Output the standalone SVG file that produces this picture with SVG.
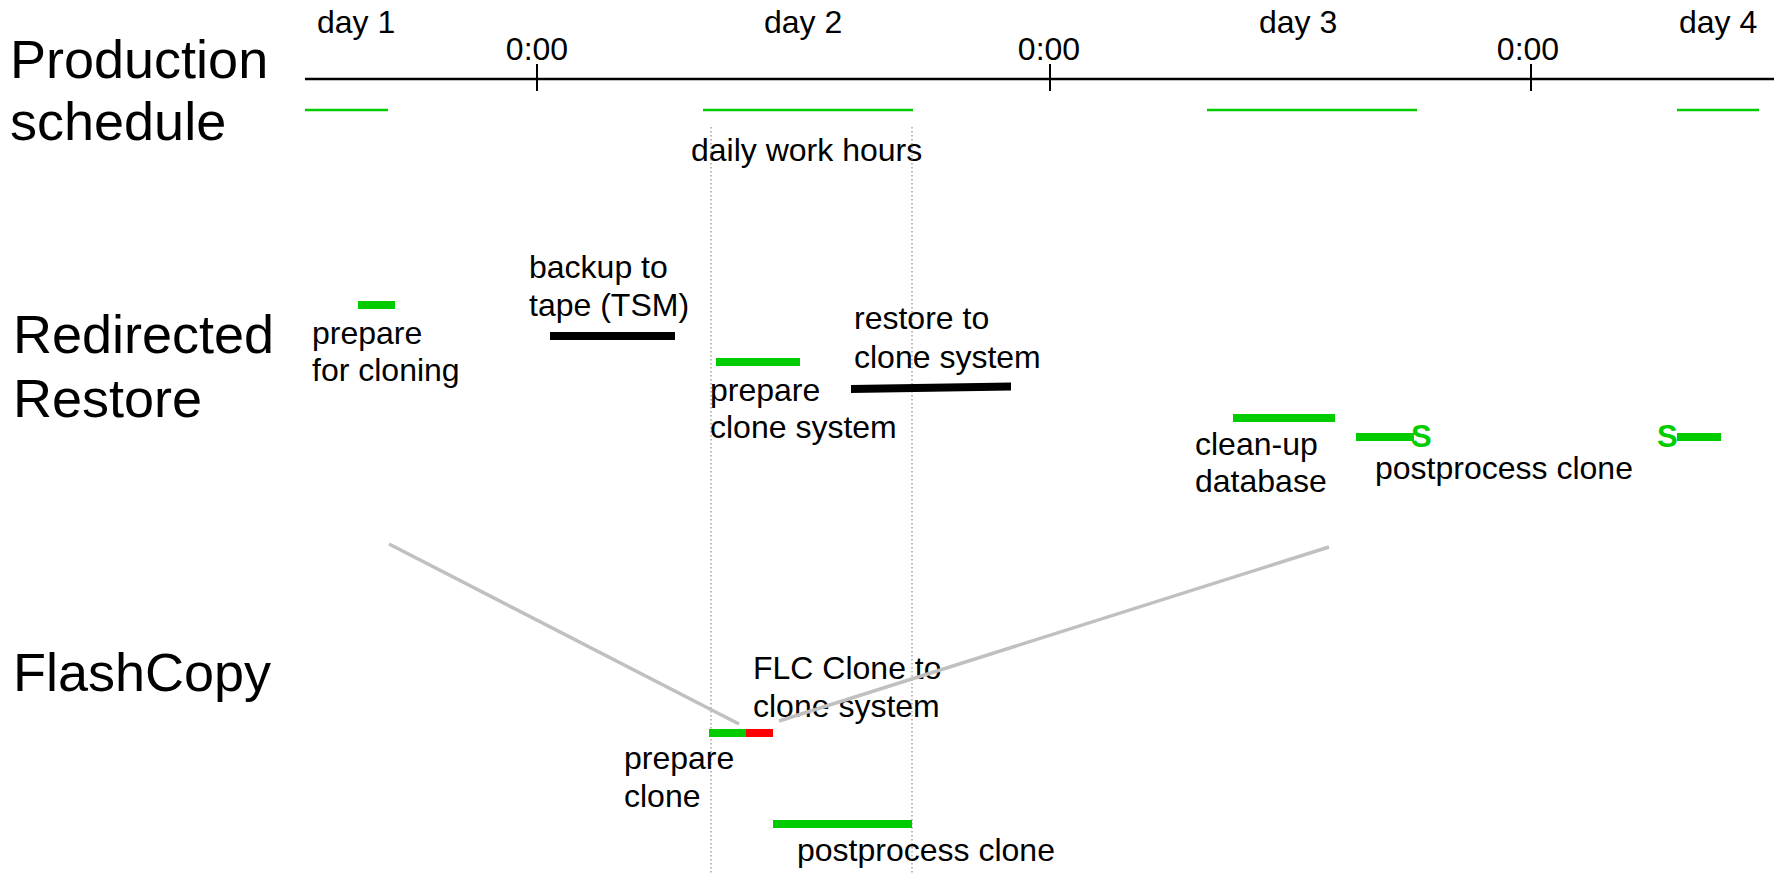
<svg xmlns="http://www.w3.org/2000/svg" width="1774" height="874" viewBox="0 0 1774 874">
  <style>
    text { font-family: "Liberation Sans", Arial, sans-serif; fill: #000; }
    .title { font-size: 54px; }
    .lbl { font-size: 32px; }
    .brk { font-size: 31px; font-weight: bold; fill: #00cc00; }
    .axis { stroke: #000; stroke-width: 2.5; fill: none; }
    .tick { stroke: #000; stroke-width: 2; }
    .hours { stroke: #00cc00; stroke-width: 2.5; }
    .guide { stroke: #777; stroke-width: 1; stroke-dasharray: 1.5 2.5; fill: none; }
    .green { fill: #00cc00; }
    .black { fill: #000; }
    .red { fill: #ff0000; }
    .link { stroke: #c0c0c0; stroke-width: 3.5; fill: none; }
  </style>
  <rect width="1774" height="874" fill="#fff"/>

  <!-- row headings -->
  <g id="heading-production">
    <text class="title" x="10" y="78">Production</text>
    <text class="title" x="10" y="140">schedule</text>
  </g>
  <g id="heading-redirected">
    <text class="title" x="13" y="353">Redirected</text>
    <text class="title" x="13" y="417">Restore</text>
  </g>
  <g id="heading-flashcopy">
    <text class="title" x="13" y="691">FlashCopy</text>
  </g>

  <!-- time axis -->
  <g id="axis">
    <line class="axis" x1="305" y1="79" x2="1774" y2="79"/>
    <line class="tick" x1="537" y1="64" x2="537" y2="91"/>
    <line class="tick" x1="1050" y1="64" x2="1050" y2="91"/>
    <line class="tick" x1="1531" y1="64" x2="1531" y2="91"/>
    <text class="lbl" x="537" y="60" text-anchor="middle">0:00</text>
    <text class="lbl" x="1049" y="60" text-anchor="middle">0:00</text>
    <text class="lbl" x="1528" y="60" text-anchor="middle">0:00</text>
    <text class="lbl" x="317" y="33">day 1</text>
    <text class="lbl" x="764" y="33">day 2</text>
    <text class="lbl" x="1259" y="33">day 3</text>
    <text class="lbl" x="1679" y="33">day 4</text>
  </g>

  <!-- daily work hours -->
  <g id="work-hours">
    <line class="hours" x1="305" y1="110" x2="388" y2="110"/>
    <line class="hours" x1="703" y1="110" x2="913" y2="110"/>
    <line class="hours" x1="1207" y1="110" x2="1417" y2="110"/>
    <line class="hours" x1="1677" y1="110" x2="1759" y2="110"/>
    <text class="lbl" x="691" y="161">daily work hours</text>
  </g>

  <!-- work-hour guides -->
  <g id="guides">
    <line class="guide" x1="711" y1="127" x2="711" y2="874"/>
    <line class="guide" x1="912" y1="127" x2="912" y2="874"/>
  </g>

  <!-- Redirected Restore tasks -->
  <g id="rr-prepare-cloning">
    <rect class="green" x="358" y="301" width="37" height="8"/>
    <text class="lbl" x="312" y="344">prepare</text>
    <text class="lbl" x="312" y="381">for cloning</text>
  </g>
  <g id="rr-backup">
    <rect class="black" x="550" y="332" width="125" height="8"/>
    <text class="lbl" x="529" y="278">backup to</text>
    <text class="lbl" x="529" y="316">tape (TSM)</text>
  </g>
  <g id="rr-prepare-clone-system">
    <rect class="green" x="716" y="358" width="84" height="8"/>
    <text class="lbl" x="710" y="401">prepare</text>
    <text class="lbl" x="710" y="438">clone system</text>
  </g>
  <g id="rr-restore">
    <path class="black" d="M851 385 L1011 382.5 L1011 390.5 L851 393 Z"/>
    <text class="lbl" x="854" y="329">restore to</text>
    <text class="lbl" x="854" y="368">clone system</text>
  </g>
  <g id="rr-cleanup">
    <rect class="green" x="1233" y="414" width="102" height="8"/>
    <text class="lbl" x="1195" y="455">clean-up</text>
    <text class="lbl" x="1195" y="492">database</text>
  </g>
  <g id="rr-postprocess">
    <rect class="green" x="1356" y="433" width="58" height="8"/>
    <text class="brk" x="1411" y="447">S</text>
    <text class="brk" x="1657" y="447">S</text>
    <rect class="green" x="1677" y="433" width="44" height="8"/>
    <text class="lbl" x="1375" y="479">postprocess clone</text>
  </g>

  <!-- FlashCopy tasks -->
  <g id="fc-prepare">
    <rect class="green" x="709" y="729" width="37" height="8"/>
    <text class="lbl" x="624" y="769">prepare</text>
    <text class="lbl" x="624" y="807">clone</text>
  </g>
  <g id="fc-clone">
    <rect class="red" x="746" y="729" width="27" height="8"/>
    <text class="lbl" x="753" y="679">FLC Clone to</text>
    <text class="lbl" x="753" y="717">clone system</text>
  </g>
  <g id="fc-postprocess">
    <rect class="green" x="773" y="820" width="139" height="8"/>
    <text class="lbl" x="797" y="861">postprocess clone</text>
  </g>

  <!-- connectors -->
  <g id="connectors">
    <line class="link" x1="389" y1="544" x2="739" y2="724"/>
    <line class="link" x1="1329" y1="547" x2="779" y2="721"/>
  </g>
</svg>
